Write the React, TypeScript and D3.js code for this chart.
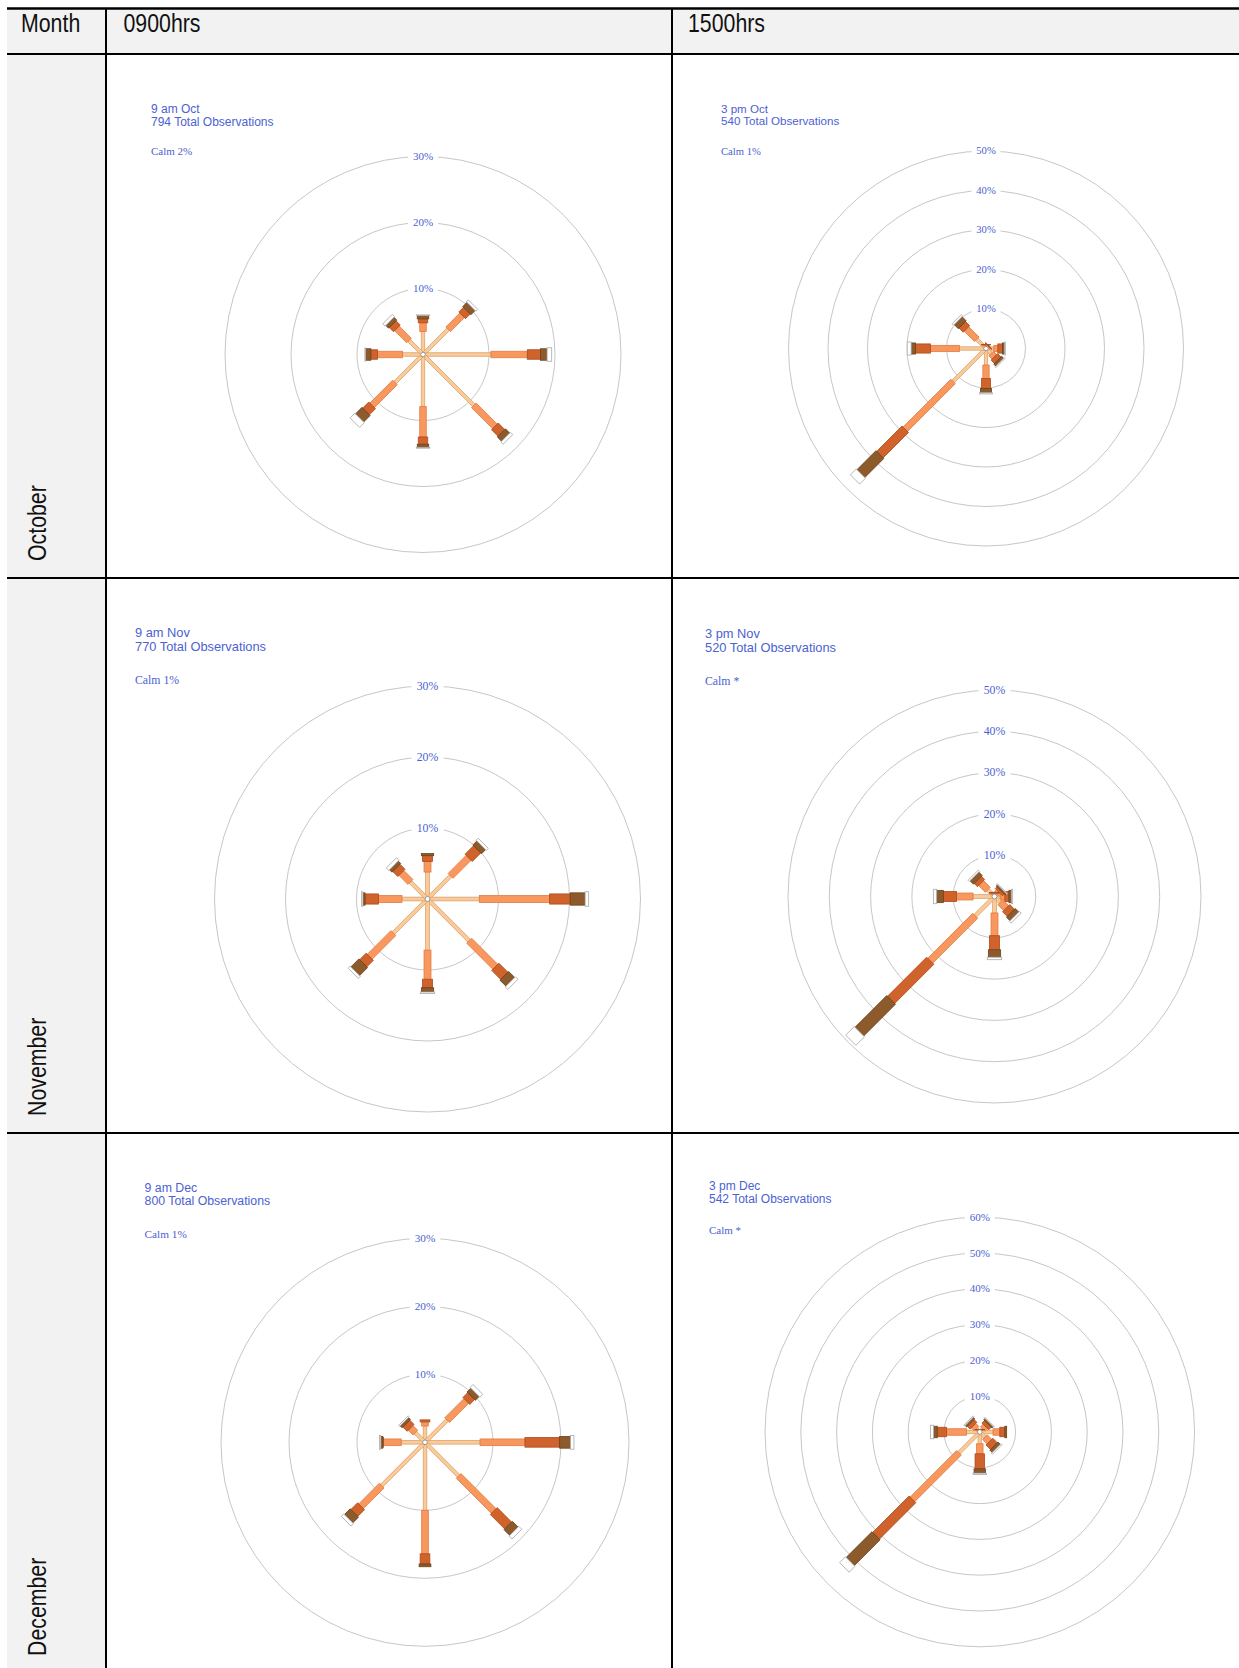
import React from "react";
import * as d3 from "d3";

// table content
const months = ["October", "November", "December"];
const monthShort = ["Oct", "Nov", "Dec"];
const hours = ["0900hrs", "1500hrs"];
const hourLabels = ["9 am", "3 pm"];
const directions = ["N", "NE", "E", "SE", "S", "SW", "W", "NW"];
const speedClasses = ["class1", "class2", "class3", "class4", "class5"];

const observations = [[794, 540], [770, 520], [800, 542]];
const calm = [["2%", "1%"], ["1%", "*"], ["1%", "*"]];
const ringMax = [[30, 50], [30, 50], [30, 60]];

// % of observations for each direction (N..NW), split by speed class (light -> strong)
const oct9 = [
  [3.5, 1.3, 0.6, 0.5, 0.1],
  [5.4, 3.0, 1.0, 0.9, 0.4],
  [10.3, 5.5, 2.0, 1.0, 0.7],
  [10.9, 4.5, 1.4, 0.9, 0.5],
  [7.9, 4.6, 1.1, 0.5, 0.1],
  [6.0, 4.9, 1.3, 1.4, 1.0],
  [3.1, 3.8, 1.0, 0.8, 0.1],
  [3.0, 2.6, 0.9, 0.6, 0.5],
];
const oct15 = [
  [0.6, 0.3, 0.1, 0, 0],
  [0.5, 0.3, 0.2, 0, 0],
  [2.0, 1.0, 1.2, 0.5, 0.2],
  [1.8, 1.2, 1.2, 0.7, 0.3],
  [4.2, 3.4, 2.5, 1.1, 0.3],
  [11.8, 17.1, 9.1, 6.8, 2.1],
  [6.75, 7.3, 3.8, 1.1, 1.0],
  [3.3, 3.7, 1.5, 1.5, 0.5],
];
const nov9 = [
  [3.8, 1.5, 0.8, 0.3, 0],
  [4.6, 3.6, 1.7, 0.8, 0.4],
  [7.3, 9.9, 2.9, 2.1, 0.5],
  [8.3, 5.2, 1.8, 1.2, 0.5],
  [7.2, 4.1, 1.2, 0.6, 0.2],
  [6.8, 4.7, 1.3, 1.6, 0.4],
  [3.6, 3.3, 1.9, 0.3, 0.2],
  [3.4, 1.8, 1.0, 0.5, 0.5],
];
const nov15 = [
  [0.5, 0.3, 0.2, 0, 0],
  [0.8, 0.7, 0.6, 0.4, 0.2],
  [1.5, 1.0, 1.0, 0.6, 0.3],
  [2.0, 2.0, 1.6, 1.2, 0.6],
  [4.0, 5.5, 3.4, 1.8, 0.6],
  [6.6, 15.4, 13.4, 10.9, 2.9],
  [5.2, 4.0, 3.2, 1.6, 0.8],
  [2.3, 2.3, 1.1, 1.2, 0.4],
];
const dec9 = [
  [2.4, 0.6, 0.3, 0, 0],
  [4.6, 4.0, 1.0, 0.8, 0.6],
  [8.1, 6.6, 5.1, 1.6, 0.5],
  [7.0, 7.3, 3.0, 1.2, 0.6],
  [10.0, 6.4, 1.5, 0.4, 0],
  [9.0, 4.3, 1.4, 1.2, 0.5],
  [3.5, 2.6, 0.1, 0.3, 0.2],
  [2.0, 1.0, 0.9, 0.4, 0.2],
];
const dec15 = [
  [0.4, 0.2, 0.1, 0, 0],
  [1.2, 1.0, 1.0, 0.5, 0.2],
  [3.7, 1.9, 1.4, 0.5, 0],
  [2.0, 1.8, 1.8, 0.9, 0.4],
  [3.3, 2.8, 4.2, 1.2, 0.4],
  [8.2, 18.4, 14.4, 10.2, 2.3],
  [3.7, 5.6, 2.6, 1.0, 0.9],
  [1.3, 1.2, 1.1, 0.6, 0.3],
];
const roses = [[oct9, oct15], [nov9, nov15], [dec9, dec15]];

// look
const segFill = ["#f9cb9b", "#f8985f", "#d0622b", "#8d5a2b", "#ffffff"];
const segStroke = ["#dda26c", "#e07b43", "#ab4e1f", "#6a421e", "#aaaaaa"];
const segWidth = [3.5, 6.5, 9.5, 11.5, 13.5];
const blue = "#4b62d2";

const W = 1239, H = 1668;
const left = 7;
const colX = [106, 672];
const rowY = [8.5, 54, 578, 1133];

// where each rose image sits in its cell
const layout = [
  [
    { cx: 423, cy: 354.5, ppp: 6.6, tx: 151, ty: 112.7, calmY: 155, k: 1 },
    { cx: 986, cy: 348.5, ppp: 3.95, tx: 721, ty: 112.5, calmY: 154.5, k: 0.965 },
  ],
  [
    { cx: 427.5, cy: 899, ppp: 7.1, tx: 135, ty: 637, calmY: 683.5, k: 1.07 },
    { cx: 994.5, cy: 896.5, ppp: 4.13, tx: 705, ty: 638, calmY: 684.5, k: 1.07 },
  ],
  [
    { cx: 425, cy: 1442.3, ppp: 6.8, tx: 144.6, ty: 1192, calmY: 1237.5, k: 1.025 },
    { cx: 979.8, cy: 1432, ppp: 3.58, tx: 709, ty: 1190, calmY: 1234, k: 1 },
  ],
];

const sans = "'Liberation Sans', Arial, sans-serif";
const serif = "'Liberation Serif', 'Times New Roman', serif";

function Rose({ data, max, lay, title, obs, calmText }) {
  const { cx, cy, ppp, tx, ty, calmY, k } = lay;
  const r = d3.scaleLinear().domain([0, max]).range([0, max * ppp]);
  const angle = d3.scaleLinear().domain([0, directions.length]).range([0, 360]);
  const rings = d3.range(10, max + 1, 10);

  const segs = [];
  speedClasses.forEach((c, ci) => {
    data.forEach((vals, di) => {
      const start = d3.sum(vals.slice(0, ci));
      const end = start + vals[ci];
      if (vals[ci] <= 0) return;
      const w = segWidth[ci] * k;
      segs.push(
        <g key={c + di} transform={`translate(${cx},${cy}) rotate(${angle(di)})`}>
          <rect
            x={-w / 2}
            y={-r(end)}
            width={w}
            height={r(end) - r(start)}
            fill={segFill[ci]}
            stroke={segStroke[ci]}
            strokeWidth={0.8}
          />
        </g>
      );
    });
  });

  return (
    <g>
      <text x={tx} y={ty} fontFamily={sans} fontSize={12 * k} fill={blue}>{title}</text>
      <text x={tx} y={ty + 13 * k} fontFamily={sans} fontSize={12 * k} fill={blue}>
        {obs} Total Observations
      </text>
      <text x={tx} y={calmY} fontFamily={serif} fontSize={11 * k} fill={blue}>Calm {calmText}</text>
      {rings.map((v) => (
        <circle key={v} cx={cx} cy={cy} r={r(v)} fill="none" stroke="#b8b8b8" strokeWidth={0.8} />
      ))}
      {segs}
      <circle cx={cx} cy={cy} r={2.3 * k} fill="#fff" stroke="#888" strokeWidth={0.8} />
      {rings.map((v) => (
        <g key={"l" + v}>
          <rect x={cx - 15 * k} y={cy - r(v) - 5 * k} width={30 * k} height={10 * k} fill="#fff" />
          <text
            x={cx}
            y={cy - r(v) + 3.5 * k}
            textAnchor="middle"
            fontFamily={serif}
            fontSize={11 * k}
            fill={blue}
          >
            {v}%
          </text>
        </g>
      ))}
    </g>
  );
}

export default function App() {
  const narrow = (x, y, rot = 0) => `translate(${x},${y}) rotate(${rot}) scale(0.82,1)`;
  return (
    <svg width={W} height={H} style={{ position: "absolute", left: 0, top: 0, background: "#fff" }}>
      <rect x={left} y={rowY[0]} width={W - left} height={rowY[1] - rowY[0]} fill="#f2f2f2" />
      <rect x={left} y={rowY[1]} width={colX[0] - left} height={H - rowY[1]} fill="#f2f2f2" />

      <text transform={narrow(21, 32)} fontFamily={sans} fontSize={26} fill="#111">Month</text>
      <text transform={narrow(123.5, 32)} fontFamily={sans} fontSize={26} fill="#111">{hours[0]}</text>
      <text transform={narrow(688, 32)} fontFamily={sans} fontSize={26} fill="#111">{hours[1]}</text>

      {months.map((m, mi) => (
        <text
          key={m}
          transform={narrow(46, (rowY[mi + 2] ?? 1673) - 17, -90)}
          fontFamily={sans}
          fontSize={26}
          fill="#111"
        >
          {m}
        </text>
      ))}

      {roses.map((row, mi) =>
        row.map((data, hi) => (
          <Rose
            key={mi + "-" + hi}
            data={data}
            max={ringMax[mi][hi]}
            lay={layout[mi][hi]}
            title={`${hourLabels[hi]} ${monthShort[mi]}`}
            obs={observations[mi][hi]}
            calmText={calm[mi][hi]}
          />
        ))
      )}

      {rowY.map((y, i) => (
        <line key={"h" + i} x1={left} x2={W} y1={y} y2={y} stroke="#000" strokeWidth={i === 0 ? 2.5 : 2} />
      ))}
      {colX.map((x, i) => (
        <line key={"v" + i} x1={x} x2={x} y1={rowY[0]} y2={H} stroke="#000" strokeWidth={2} />
      ))}
    </svg>
  );
}
